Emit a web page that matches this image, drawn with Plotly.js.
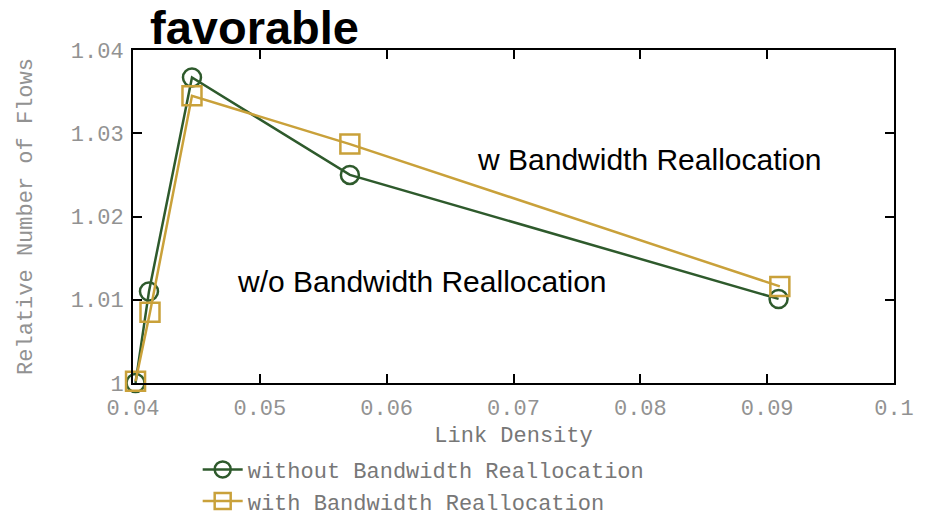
<!DOCTYPE html>
<html>
<head>
<meta charset="utf-8">
<script src="https://cdn.plot.ly/plotly-3.0.1.min.js"></script>
<style>html,body{margin:0;padding:0;background:#fff;}#chart{width:930px;height:529px;}</style>
</head>
<body>
<div id="chart"></div>
<script>
// Data
const densityWithout = [0.0402, 0.04126, 0.04465, 0.0571, 0.0909];
const flowsWithout   = [1.0000, 1.0110, 1.0367, 1.0250, 1.0101];
const densityWith    = [0.0402, 0.04134, 0.04465, 0.0571, 0.0910];
const flowsWith      = [1.0002, 1.0085, 1.0345, 1.0287, 1.0116];
const seriesNames = ["without Bandwidth Reallocation", "with Bandwidth Reallocation"];
const xTicks = [0.04, 0.05, 0.06, 0.07, 0.08, 0.09, 0.1];
const xTickText = ["0.04", "0.05", "0.06", "0.07", "0.08", "0.09", "0.1"];
const yTicks = [1, 1.01, 1.02, 1.03, 1.04];
const yTickText = ["1", "1.01", "1.02", "1.03", "1.04"];

const mono = "Liberation Mono, Courier New, monospace";
const sans = "Liberation Sans, Arial, sans-serif";
const green = "#2e5a2c";
const gold = "#c9a13a";

const traces = [
  {
    x: densityWithout, y: flowsWithout, name: seriesNames[0],
    mode: "lines+markers", type: "scatter", cliponaxis: false,
    line: {color: green, width: 2.5},
    marker: {symbol: "circle-open", size: 18, color: green, line: {width: 2.5, color: green}}
  },
  {
    x: densityWith, y: flowsWith, name: seriesNames[1],
    mode: "lines+markers", type: "scatter", cliponaxis: false,
    line: {color: gold, width: 2.5},
    marker: {symbol: "square-open", size: 19, color: gold, line: {width: 2.5, color: gold}}
  }
];

const axisCommon = {
  showgrid: false, zeroline: false, showline: true, mirror: "ticks",
  linecolor: "#000", linewidth: 2, ticks: "inside", ticklen: 9, tickwidth: 2, tickcolor: "#000",
  tickfont: {family: mono, size: 22, color: "#929292"}
};

const layout = {
  width: 930, height: 529,
  margin: {l: 133, r: 36, t: 50, b: 146},
  paper_bgcolor: "#fff", plot_bgcolor: "#fff",
  showlegend: true,
  legend: {
    x: 0.085, xanchor: "left", xref: "paper",
    y: 0.152, yanchor: "top", yref: "container",
    font: {family: mono, size: 22, color: "#777"},
    bgcolor: "rgba(0,0,0,0)", itemwidth: 40, tracegroupgap: 0
  },
  xaxis: Object.assign({}, axisCommon, {
    range: [0.04, 0.1], tickvals: xTicks, ticktext: xTickText, ticklabelstandoff: 4,
    title: {text: "Link Density", font: {family: mono, size: 22, color: "#777"}, standoff: 8}
  }),
  yaxis: Object.assign({}, axisCommon, {
    range: [1, 1.04], tickvals: yTicks, ticktext: yTickText, ticklabelstandoff: 3,
    title: {text: "Relative Number of Flows", font: {family: mono, size: 22, color: "#929292"}, standoff: 32}
  }),
  annotations: [
    {text: "<b>favorable</b>", xref: "paper", yref: "paper", x: 0.02, y: 1.0, xanchor: "left", yanchor: "bottom",
     showarrow: false, font: {family: sans, size: 47, color: "#000"}, yshift: -6},
    {text: "w Bandwidth Reallocation", xref: "x", yref: "y", x: 0.0670, y: 1.0268, xanchor: "left", yanchor: "middle",
     showarrow: false, font: {family: sans, size: 30, color: "#000"}},
    {text: "w/o Bandwidth Reallocation", xref: "x", yref: "y", x: 0.04804, y: 1.01225, xanchor: "left", yanchor: "middle",
     showarrow: false, font: {family: sans, size: 30, color: "#000"}}
  ]
};

Plotly.newPlot("chart", traces, layout, {displayModeBar: false, staticPlot: true});
</script>
</body>
</html>
